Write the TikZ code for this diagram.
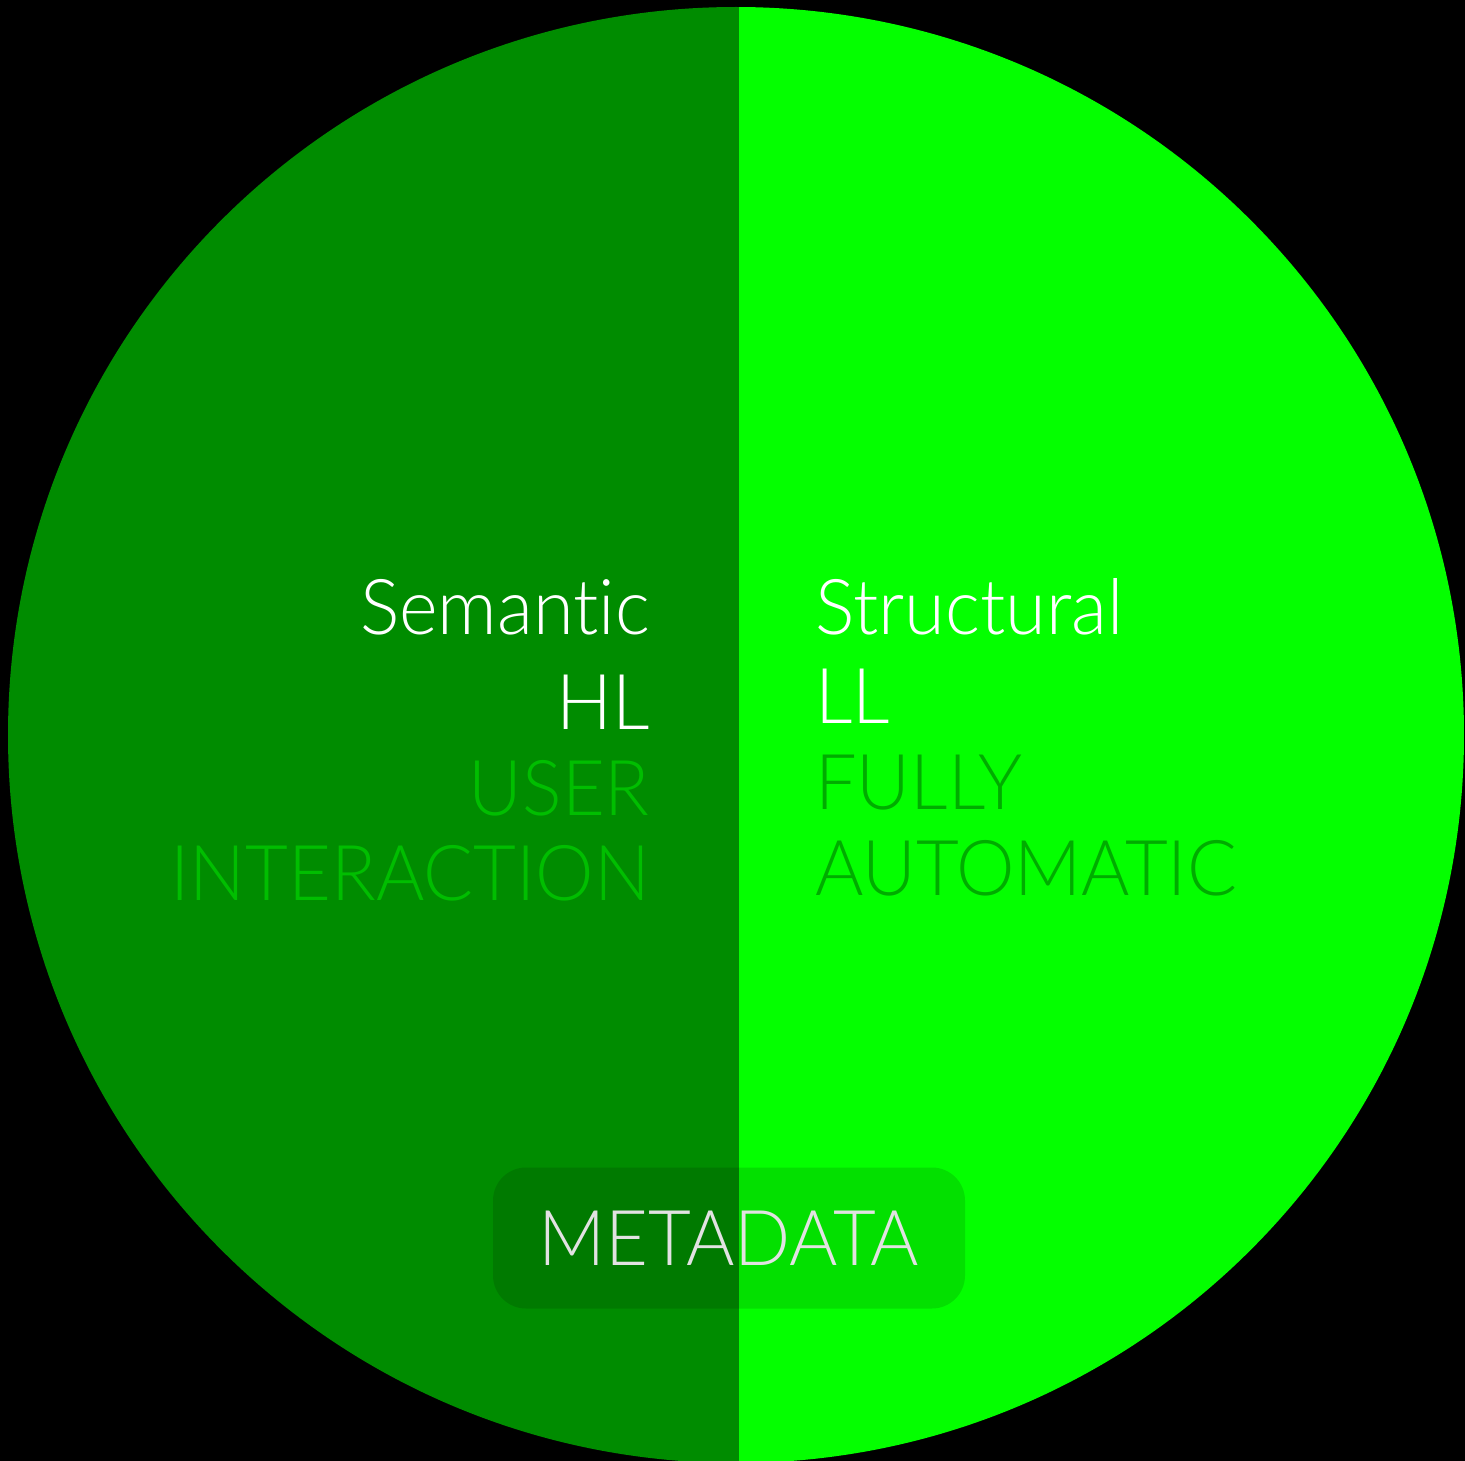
\documentclass[tikz,border=0pt]{standalone}
\usepackage{fontspec}
\setmainfont{Lato Light}[Ligatures=NoCommon,FakeStretch=0.96]
\definecolor{darkhalf}{RGB}{0,140,0}
\definecolor{brighthalf}{RGB}{4,255,0}
\definecolor{userc}{RGB}{0,190,0}
\definecolor{autoc}{RGB}{0,172,0}
\definecolor{metac}{RGB}{226,226,226}
\tikzset{
  lefttext/.style={anchor=base east,inner sep=0pt,font=\fontsize{77}{86}\selectfont},
  righttext/.style={anchor=base west,inner sep=0pt,font=\fontsize{77}{86}\selectfont},
  metabox/.style={fill=black,fill opacity=0.12,text opacity=1,text=metac,rounded corners=33pt,
    minimum width=472pt,minimum height=141pt,inner sep=0pt,font=\fontsize{77}{86}\selectfont}
}
\begin{document}
\begin{tikzpicture}[x=1pt,y=-1pt]
  \fill[black] (0,0) rectangle (1465,1461);
  \useasboundingbox (0,0) rectangle (1465,1461);
  \begin{scope}
    \clip (736,735) circle (728);
    \fill[darkhalf] (0,0) rectangle (739,1461);
    \fill[brighthalf] (739,0) rectangle (1465,1461);
  \end{scope}
  \draw
    (650,634) node[lefttext,text=white] (sem){Semantic}
    (650,729) node[lefttext,text=white] (hl){HL}
    (650,815) node[lefttext,text=userc] (user){USER}
    (650,900) node[lefttext,text=userc] (inter){INTERACTION}
    (815,634) node[righttext,text=white] (struct){Structural}
    (815,723) node[righttext,text=white] (ll){LL}
    (815,809) node[righttext,text=autoc] (fully){FULLY}
    (815,895) node[righttext,text=autoc] (auto){AUTOMATIC};
  \node[metabox] (meta) at (729,1238) {METADATA};
\end{tikzpicture}
\end{document}
